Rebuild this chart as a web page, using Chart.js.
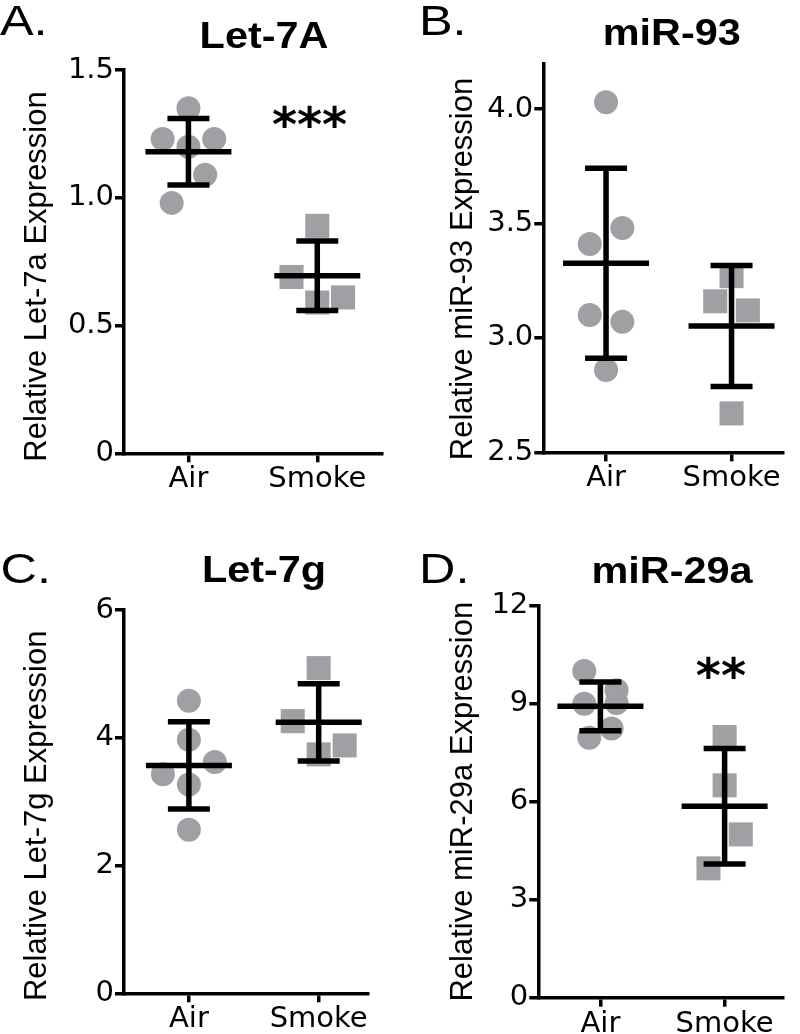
<!DOCTYPE html>
<html>
<head>
<meta charset="utf-8">
<script src="https://cdn.jsdelivr.net/npm/chart.js@4.4.1/dist/chart.umd.min.js"></script>
<style>
  html, body { margin: 0; padding: 0; background: #fff; overflow: hidden; }
  #wrap { position: relative; width: 800px; height: 1034px; }
  canvas { position: absolute; }
</style>
</head>
<body>
<div id="wrap">
  <canvas id="panelA" width="400" height="517" style="left:0;top:0"></canvas>
  <canvas id="panelB" width="400" height="517" style="left:400px;top:0"></canvas>
  <canvas id="panelC" width="400" height="517" style="left:0;top:517px"></canvas>
  <canvas id="panelD" width="400" height="517" style="left:400px;top:517px"></canvas>
</div>
<script>
const groups = ['Air', 'Smoke'];

// A. Let-7A
const let7aAirY = [1.35, 1.23, 1.23, 1.20, 1.09, 0.98];
const let7aAirX = [1.0, 0.8, 1.2, 1.0, 1.13, 0.87];
const let7aSmokeY = [0.89, 0.69, 0.59, 0.61];
const let7aSmokeX = [2.0, 1.8, 2.0, 2.2];
const let7aMean = [1.18, 0.695];
const let7aSD = [0.13, 0.136];
const let7aTicks = [0, 0.5, 1.0, 1.5];
const let7aTickLabels = ['0', '0.5', '1.0', '1.5'];

// B. miR-93
const mir93AirY = [4.03, 3.48, 3.41, 3.10, 3.07, 2.86];
const mir93AirX = [1.0, 1.13, 0.87, 0.87, 1.13, 1.0];
const mir93SmokeY = [3.27, 3.16, 3.12, 2.67];
const mir93SmokeX = [2.0, 1.87, 2.13, 2.0];
const mir93Mean = [3.326, 3.052];
const mir93SD = [0.415, 0.264];
const mir93Ticks = [2.5, 3.0, 3.5, 4.0];
const mir93TickLabels = ['2.5', '3.0', '3.5', '4.0'];

// C. Let-7g
const let7gAirY = [4.58, 3.97, 3.62, 3.43, 3.27, 2.56];
const let7gAirX = [1.0, 1.0, 1.2, 0.8, 1.0, 1.0];
const let7gSmokeY = [5.09, 4.26, 3.88, 3.74];
const let7gSmokeX = [2.0, 1.8, 2.2, 2.0];
const let7gMean = [3.567, 4.241];
const let7gSD = [0.683, 0.605];
const let7gTicks = [0, 2, 4, 6];
const let7gTickLabels = ['0', '2', '4', '6'];

// D. miR-29a
const mir29aAirY = [10.0, 9.41, 9.02, 9.0, 8.24, 7.96];
const mir29aAirX = [0.87, 1.13, 1.13, 0.87, 1.09, 0.91];
const mir29aSmokeY = [7.98, 6.50, 5.00, 3.96];
const mir29aSmokeX = [2.0, 2.0, 2.13, 1.87];
const mir29aMean = [8.92, 5.86];
const mir29aSD = [0.745, 1.77];
const mir29aTicks = [0, 3, 6, 9, 12];
const mir29aTickLabels = ['0', '3', '6', '9', '12'];

const TICK_FONT = "'DejaVu Sans', sans-serif";
const LABEL_FONT = "'Liberation Sans', Arial, sans-serif";
const POINT_GRAY = '#9fa0a4';
const CANVAS_W = 400, CANVAS_H = 517;

// mean line + SD error bars, drawn through the chart's scales
const errorBarsPlugin = {
    id: 'errorBars',
    afterDatasetsDraw(chart, args, opts) {
        const ctx = chart.ctx;
        const xs = chart.scales.x, ys = chart.scales.y;
        ctx.save();
        ctx.strokeStyle = '#000';
        ctx.lineWidth = 5.5;
        ctx.lineCap = 'butt';
        opts.mean.forEach((m, i) => {
            const cx = xs.getPixelForValue(i + 1);
            const py = ys.getPixelForValue(m);
            const hi = ys.getPixelForValue(m + opts.sd[i]);
            const lo = ys.getPixelForValue(m - opts.sd[i]);
            ctx.beginPath();
            ctx.moveTo(cx - 43, py); ctx.lineTo(cx + 43, py);
            ctx.moveTo(cx, hi); ctx.lineTo(cx, lo);
            ctx.moveTo(cx - 21, hi); ctx.lineTo(cx + 21, hi);
            ctx.moveTo(cx - 21, lo); ctx.lineTo(cx + 21, lo);
            ctx.stroke();
        });
        ctx.restore();
    }
};

// text drawn a little wider than the font, like the figure
function wideText(ctx, text, x, y, sx) {
    ctx.save();
    ctx.translate(x, y);
    ctx.scale(sx, 1);
    ctx.fillText(text, 0, 0);
    ctx.restore();
}

// panel letter, title, y axis title and significance stars
const panelTextPlugin = {
    id: 'panelText',
    afterDraw(chart, args, opts) {
        const ctx = chart.ctx;
        ctx.save();
        ctx.fillStyle = '#000';
        ctx.textBaseline = 'alphabetic';

        ctx.font = '42px ' + LABEL_FONT;
        ctx.textAlign = 'left';
        wideText(ctx, opts.letter.text, opts.letter.x, opts.letter.y, 1.2);

        ctx.font = 'bold 36px ' + LABEL_FONT;
        ctx.textAlign = 'center';
        wideText(ctx, opts.title.text, opts.title.x, opts.title.y, 1.15);

        ctx.save();
        ctx.translate(opts.yTitle.x, opts.yTitle.y);
        ctx.rotate(-Math.PI / 2);
        ctx.font = '31px ' + LABEL_FONT;
        ctx.fillText(opts.yTitle.text, 0, 0);
        ctx.restore();

        if (opts.stars) {
            ctx.font = 'bold 48px ' + TICK_FONT;
            const m = ctx.measureText(opts.stars.text);
            const cx = chart.scales.x.getPixelForValue(opts.stars.x);
            const cy = chart.scales.y.getPixelForValue(opts.stars.y);
            const base = cy + (m.actualBoundingBoxAscent - m.actualBoundingBoxDescent) / 2;
            ctx.fillText(opts.stars.text, cx, base);
        }
        ctx.restore();
    }
};

function makePanel(id, cfg) {
    const ctx = document.getElementById(id).getContext('2d');
    const area = cfg.area;
    return new Chart(ctx, {
        type: 'scatter',
        data: {
            datasets: [
                {
                    label: groups[0],
                    data: cfg.airX.map((x, i) => ({ x: x, y: cfg.airY[i] })),
                    pointStyle: 'circle',
                    pointRadius: 12,
                    backgroundColor: POINT_GRAY,
                    borderWidth: 0,
                    pointBorderWidth: 0
                },
                {
                    label: groups[1],
                    data: cfg.smokeX.map((x, i) => ({ x: x, y: cfg.smokeY[i] })),
                    pointStyle: 'rect',
                    pointRadius: 17,
                    backgroundColor: POINT_GRAY,
                    borderWidth: 0,
                    pointBorderWidth: 0
                }
            ]
        },
        options: {
            responsive: false,
            animation: false,
            devicePixelRatio: 1,
            events: [],
            clip: false,
            layout: {
                padding: { left: 0, top: area.top, right: CANVAS_W - area.right, bottom: 0 }
            },
            plugins: {
                legend: { display: false },
                tooltip: { enabled: false },
                errorBars: { mean: cfg.mean, sd: cfg.sd },
                panelText: cfg.text
            },
            scales: {
                x: {
                    type: 'linear',
                    min: 0.5,
                    max: cfg.xMax,
                    afterFit: function(s) { s.height = CANVAS_H - area.bottom; },
                    afterBuildTicks: function(s) { s.ticks = [{ value: 1 }, { value: 2 }]; },
                    grid: { drawOnChartArea: false, drawTicks: true, tickLength: 9, color: '#000', lineWidth: 3.5 },
                    border: { display: true, color: '#000', width: 3.5 },
                    ticks: {
                        autoSkip: false,
                        maxRotation: 0,
                        padding: 0,
                        color: '#000',
                        font: { family: TICK_FONT, size: 29 },
                        callback: function(v, i) { return groups[i]; }
                    }
                },
                y: {
                    type: 'linear',
                    min: cfg.yMin,
                    max: cfg.yMax,
                    afterFit: function(s) { s.width = area.left; },
                    afterBuildTicks: function(s) { s.ticks = cfg.ticks.map(v => ({ value: v })); },
                    grid: { drawOnChartArea: false, drawTicks: true, tickLength: 9, color: '#000', lineWidth: 3.5 },
                    border: { display: true, color: '#000', width: 3.5 },
                    ticks: {
                        autoSkip: false,
                        padding: 1,
                        color: '#000',
                        font: { family: TICK_FONT, size: 29 },
                        callback: function(v, i) { return cfg.tickLabels[i]; }
                    }
                }
            }
        },
        plugins: [errorBarsPlugin, panelTextPlugin]
    });
}

makePanel('panelA', {
    airX: let7aAirX, airY: let7aAirY, smokeX: let7aSmokeX, smokeY: let7aSmokeY,
    mean: let7aMean, sd: let7aSD, ticks: let7aTicks, tickLabels: let7aTickLabels,
    yMin: 0, yMax: 1.5, xMax: 2.5,
    area: { left: 124, right: 381.7, top: 70, bottom: 453.3 },
    text: {
        letter: { text: 'A.', x: 0, y: 35 },
        title: { text: 'Let-7A', x: 264, y: 48 },
        yTitle: { text: 'Relative Let-7a Expression', x: 46.3, y: 276.5 },
        stars: { text: '***', x: 1.94, y: 1.317 }
    }
});

makePanel('panelB', {
    airX: mir93AirX, airY: mir93AirY, smokeX: mir93SmokeX, smokeY: mir93SmokeY,
    mean: mir93Mean, sd: mir93SD, ticks: mir93Ticks, tickLabels: mir93TickLabels,
    yMin: 2.5, yMax: 4.2, xMax: 2.41,
    area: { left: 143.3, right: 384, top: 63.3, bottom: 452.3 },
    text: {
        letter: { text: 'B.', x: 19, y: 35 },
        title: { text: 'miR-93', x: 271.7, y: 45 },
        yTitle: { text: 'Relative miR-93 Expression', x: 72.3, y: 269 }
    }
});

makePanel('panelC', {
    airX: let7gAirX, airY: let7gAirY, smokeX: let7gSmokeX, smokeY: let7gSmokeY,
    mean: let7gMean, sd: let7gSD, ticks: let7gTicks, tickLabels: let7gTickLabels,
    yMin: 0, yMax: 6, xMax: 2.38,
    area: { left: 124, right: 368, top: 93, bottom: 476.3 },
    text: {
        letter: { text: 'C.', x: 0.5, y: 66 },
        title: { text: 'Let-7g', x: 264, y: 65 },
        yTitle: { text: 'Relative Let-7g Expression', x: 45.6, y: 298.8 }
    }
});

makePanel('panelD', {
    airX: mir29aAirX, airY: mir29aAirY, smokeX: mir29aSmokeX, smokeY: mir29aSmokeY,
    mean: mir29aMean, sd: mir29aSD, ticks: mir29aTicks, tickLabels: mir29aTickLabels,
    yMin: 0, yMax: 12, xMax: 2.47,
    area: { left: 138.3, right: 400, top: 88.7, bottom: 480.7 },
    text: {
        letter: { text: 'D.', x: 19, y: 66 },
        title: { text: 'miR-29a', x: 272, y: 66 },
        yTitle: { text: 'Relative miR-29a Expression', x: 71.6, y: 284.7 },
        stars: { text: '**', x: 1.97, y: 10.12 }
    }
});
</script>
</body>
</html>
